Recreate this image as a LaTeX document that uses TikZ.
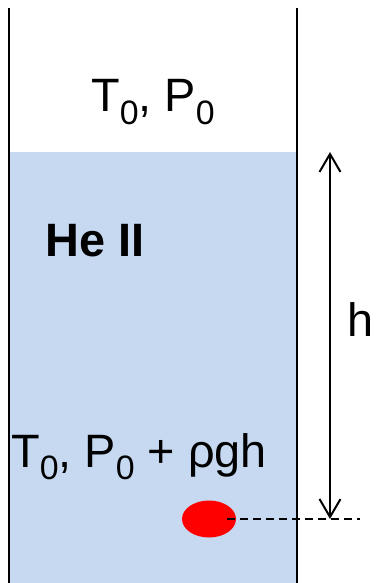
\documentclass[tikz,border=0pt]{standalone}
\usepackage{fontspec}
\setmainfont{Liberation Sans}
\usetikzlibrary{arrows.meta,shapes.geometric}
\definecolor{heblue}{HTML}{C6D9F0}
\newcommand{\subz}{\raisebox{-0.26em}{\fontsize{34}{34}\selectfont 0}}
\begin{document}
\begin{tikzpicture}[x=1bp,y=-1bp,
  wall/.style={line width=2bp,black},
  bigtext/.style={inner sep=0pt,font=\fontsize{47}{50}\selectfont},
  dim/.style={line width=2bp,{Straight Barb[length=18bp,width=21bp,line width=2bp]}-{Straight Barb[length=18bp,width=21bp,line width=2bp]}},
  ref/.style={line width=1.5bp,dash pattern=on 8bp off 5bp}]
\useasboundingbox (0,0) rectangle (377,583);
\fill[white] (0,0) rectangle (377,583);
\fill[heblue] (9,152) rectangle (297,583);
\draw[wall] (9,8) -- (9,583);
\draw[wall] (297,8) -- (297,583);
\node[bigtext,anchor=base west] (top) at (91,112) {T\subz, P\subz};
\node[bigtext,anchor=base west,font=\fontsize{47}{50}\selectfont\bfseries] (he) at (45,256) {He II};
\node[bigtext,anchor=base west] (bot) at (11,467) {T\subz, P\subz\ + ρgh};
\node[ellipse,fill=red,minimum width=54bp,minimum height=37bp,inner sep=0pt] (bub) at (209,519) {};
\coordinate (surf) at (330,152);
\coordinate (depth) at (330,519);
\coordinate (dashend) at (360,519);
\coordinate (dashstart) at (227,519);
\draw[dim] (surf) -- (depth);
\draw[ref] (dashstart) -- (dashend);
\node[bigtext,anchor=base west] (h) at (347,336) {h};
\end{tikzpicture}
\end{document}
